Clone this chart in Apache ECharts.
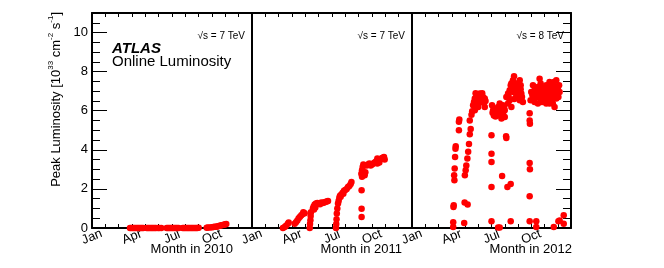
<!DOCTYPE html>
<html><head><meta charset="utf-8">
<script src="https://cdn.jsdelivr.net/npm/echarts@6/dist/echarts.min.js"></script>
<style>html,body{margin:0;padding:0;background:#fff}#c{width:664px;height:268px}</style>
</head><body><div id="c"></div>
<script>
// ---- data: [month of year (0 = 1 Jan), peak luminosity in 1e33 cm^-2 s^-1] ----
const lumi2010 = [
 [2.85,0],[2.95,0],[3.05,0],[3.15,0],[3.25,0],[3.35,0],[3.45,0],[3.55,0],[3.65,0],[3.75,0],[3.85,0],
 [4.1,0],[4.2,0],[4.3,0],[4.4,0],[4.5,0],[4.6,0],[4.7,0],[4.8,0],[4.95,0],[5.05,0],[5.2,0],
 [5.6,0],[5.7,0],[5.8,0],[5.9,0],[6.0,0],[6.1,0],[6.2,0],[6.3,0],[6.4,0],[6.5,0],
 [6.8,0],[6.9,0],[7.0,0],[7.1,0],[7.2,0],[7.3,0],[7.4,0],[7.5,0],[7.6,0],[7.7,0],[7.8,0],[7.9,0],[8.0,0.01],
 [8.6,0.01],[8.7,0.02],[8.85,0.03],[9.0,0.04],[9.1,0.05],[9.2,0.06],[9.3,0.07],[9.4,0.08],[9.5,0.1],
 [9.6,0.12],[9.7,0.14],[9.8,0.15],[9.9,0.17],[10.0,0.19],[10.07,0.2]
];
const lumi2011 = [
 [2.32,0.0],[2.45,0.05],[2.55,0.12],[2.69,0.22],[2.75,0.28],
 [3.2,0.22],[3.3,0.3],[3.4,0.38],[3.5,0.5],[3.6,0.58],[3.7,0.65],[3.8,0.72],[3.95,0.75],[3.85,0.8],
 [4.33,0.0],[4.35,0.2],[4.38,0.4],[4.4,0.62],[4.42,0.8],
 [4.57,1.0],[4.62,1.1],[4.7,1.2],[4.8,1.25],[4.9,1.28],[5.0,1.25],[5.1,1.22],[5.2,1.3],[5.3,1.28],
 [5.4,1.3],[5.5,1.33],[5.6,1.35],[5.7,1.38],[4.65,0.95],[4.75,1.05],
 [6.3,0.0],[6.32,0.2],[6.34,0.45],[6.36,0.74],[6.4,1.0],[6.45,1.25],[6.5,1.4],[6.55,1.55],[6.6,1.65],
 [6.7,1.72],[6.8,1.8],[6.9,1.9],[7.0,1.95],[7.1,2.0],[7.2,2.1],[7.3,2.15],[7.4,2.25],[7.46,2.35],
 [6.65,1.6],[6.85,1.75],
 [8.22,1.93],[8.22,0.99],[8.22,0.56],
 [8.2,2.78],[8.25,2.95],[8.3,3.12],[8.35,3.25],[8.25,2.62],[8.45,2.7],[8.5,2.85],[8.6,3.2],[8.7,3.25],
 [8.8,3.3],[8.9,3.2],[9.0,3.25],[9.1,3.3],[9.2,3.35],[9.3,3.4],[9.4,3.3],[9.5,3.45],[9.6,3.5],
 [9.7,3.55],[9.8,3.6],[9.9,3.63],[9.95,3.5],[9.55,3.35],[9.4,3.55]
];
const lumi2012 = [
 [3.11,0.3],[3.11,0.05],[3.13,1.07],[3.15,1.16],[3.18,2.7],[3.2,2.44],[3.22,3.04],[3.25,3.63],
 [3.3,4.18],[3.28,4.06],[3.54,5.43],[3.54,5.0],[3.57,5.55],
 [3.94,0.26],[3.97,1.3],[4.2,1.2],
 [3.99,2.7],[4.05,2.95],[4.1,3.2],[4.18,3.55],[4.24,3.9],[4.3,4.3],[4.36,4.8],[4.43,5.07],[4.36,5.5],[4.49,5.8],[4.54,5.97],
 [4.74,6.62],[4.87,6.79],[4.99,6.7],[5.24,6.79],[5.36,6.7],[5.49,6.62],[5.2,6.45],[5.49,6.19],
 [4.99,6.19],[4.74,6.02],[4.61,6.28],[5.36,6.54],[5.12,6.88],
 [4.68,6.45],[4.8,6.9],[5.05,6.55],[5.3,6.9],[5.42,6.4],[5.55,6.5],[4.92,6.35],
 [6.04,6.28],[6.12,6.02],[6.25,5.85],[6.37,5.94],[6.5,6.19],[6.62,5.77],[6.75,5.6],[6.87,5.85],
 [7.0,6.02],[6.62,6.37],[6.87,6.28],[7.0,5.68],[6.45,5.77],
 [6.08,5.9],[6.2,6.1],[6.3,5.7],[6.42,6.05],[6.55,5.95],[6.7,6.1],[6.8,5.72],[6.95,6.15],[6.18,5.75],
 [6.0,4.74],[6.0,3.8],[6.0,3.38],[6.0,2.1],[6.0,0.34],[6.5,0.03],[6.62,0.03],
 [6.8,2.66],[7.1,4.7],[7.12,4.6],[7.2,2.1],[7.45,2.25],[7.45,0.35],
 [7.12,6.7],[7.25,6.88],[7.37,7.05],[7.45,7.3],[7.5,7.39],[7.62,7.56],[7.7,7.76],[7.75,7.22],
 [7.88,7.39],[8.0,7.05],[8.13,7.56],[8.2,7.3],[8.25,6.88],[8.13,6.54],[8.37,6.45],[8.0,6.7],
 [7.62,6.96],[7.37,6.54],[7.5,6.19],[7.25,6.37],[7.88,6.79],
 [7.55,7.1],[7.68,7.0],[7.8,6.95],[7.95,7.25],[8.05,6.9],[8.2,7.1],[7.72,6.6],[7.3,6.7],[8.3,6.7],
 [8.88,5.87],[8.88,5.5],[8.9,5.34],[8.88,3.33],[8.9,3.0],[8.88,1.62],[8.88,0.34],
 [9.38,0.34],[9.38,0.05],[10.7,0.05],[11.05,0.34],[11.14,0.38],[11.45,0.65],[11.45,0.22],
 [8.95,6.54],[9.0,6.96],[9.13,7.3],[9.25,7.05],[9.38,6.7],[9.5,7.22],[9.63,7.64],[9.71,7.39],
 [9.76,6.88],[9.88,7.13],[9.96,6.54],[10.0,6.96],[10.13,7.3],[10.21,6.7],[10.26,7.13],[10.38,7.47],
 [10.46,6.88],[10.51,6.54],[10.56,7.3],[10.63,7.05],[10.76,6.7],[10.81,7.22],[10.89,7.56],
 [10.96,6.88],[11.01,7.13],[11.14,6.96],[10.89,6.62],[10.71,7.47],[9.5,6.37],[9.81,6.45],
 [10.13,6.37],[10.38,6.37],[10.63,6.37],[9.25,6.45],[9.63,6.74],[10.0,6.7],[10.31,6.88],[10.76,6.19],
 [9.08,6.8],[9.45,6.95],[9.58,7.05],[9.9,6.8],[10.05,7.1],[10.18,6.95],[10.45,7.15],[10.6,6.75],
 [10.85,6.95],[11.05,6.7],[11.1,7.3],[9.2,6.6],[9.7,6.6],[10.3,6.55],[10.5,7.0]
];
const seriesData = [lumi2010, lumi2011, lumi2012];
const xTitles = ['Month in 2010', 'Month in 2011', 'Month in 2012'];
const energyLabels = ['\u221As = 7 TeV', '\u221As = 7 TeV', '\u221As = 8 TeV'];
const monthNames = ['Jan', 'Apr', 'Jul', 'Oct'];   // at months 0, 3, 6, 9
const yTicks = {min: 0, max: 11, interval: 2};

// ---- layout ----
const FONT = 'Liberation Sans, Arial, Helvetica, sans-serif';
const lefts = [92, 252, 412];
const widths = [160, 160, 159];
const TOP = 13, BOTTOM = 40;
const xTitleRight = [233, 402, 572];
const LW = 2;
const TW = 1;

const grids = [], xAxes = [], yAxes = [], series = [];
for (let i = 0; i < 3; i++) {
  grids.push({left: lefts[i], width: widths[i], top: TOP, bottom: BOTTOM, containLabel: false});
  xAxes.push({
    gridIndex: i, type: 'value', position: 'bottom', min: 0, max: 12, interval: 1,
    axisLine: {show: true, onZero: false, lineStyle: {color: '#000', width: LW}},
    axisTick: {show: true, inside: true, length: 4, lineStyle: {color: '#000', width: TW}},
    splitLine: {show: false},
    axisLabel: {
      show: true, rotate: 22, align: 'center', verticalAlign: 'middle', margin: 9,
      fontSize: 13, fontFamily: FONT, color: '#000',
      formatter: v => (v % 3 === 0 && v < 12) ? monthNames[v / 3] : ''
    }
  });
  xAxes.push({
    gridIndex: i, type: 'value', position: 'top', min: 0, max: 12, interval: 1,
    axisLine: {show: true, onZero: false, lineStyle: {color: '#000', width: LW}},
    axisTick: {show: true, inside: true, length: 4, lineStyle: {color: '#000', width: TW}},
    splitLine: {show: false}, axisLabel: {show: false}
  });
  const isFirst = i === 0;
  yAxes.push({
    gridIndex: i, type: 'value', position: 'left', min: yTicks.min, max: yTicks.max, interval: yTicks.interval,
    axisLine: {show: true, onZero: false, lineStyle: {color: '#000', width: LW}},
    axisTick: {show: isFirst, inside: true, length: 15, lineStyle: {color: '#000', width: TW}},
    minorTick: {show: isFirst, splitNumber: 4, length: 8, lineStyle: {color: '#000', width: TW}},
    splitLine: {show: false}, minorSplitLine: {show: false},
    axisLabel: {show: isFirst, fontSize: 13, fontFamily: FONT, color: '#000', margin: 4,
      formatter: v => v > 10 ? '' : String(v)},
    name: isFirst ? '{n|Peak Luminosity [10}{s|33}{n| cm}{s|-2}{n| s}{s|-1}{n|]}' : '',
    nameLocation: 'end', nameRotate: 90, nameGap: 1,
    nameTextStyle: {
      align: 'right', verticalAlign: 'bottom', padding: [0, 0, 29, 0],
      rich: {
        n: {fontSize: 13, fontFamily: FONT, color: '#000', lineHeight: 16, verticalAlign: 'bottom'},
        s: {fontSize: 8, fontFamily: FONT, color: '#000', lineHeight: 16, verticalAlign: 'top'}
      }
    }
  });
  series.push({
    type: 'scatter', xAxisIndex: 2 * i, yAxisIndex: i,
    data: seriesData[i], symbol: 'circle', symbolSize: 6.5, clip: false,
    itemStyle: {color: '#ff0000', opacity: 1}, silent: true, animation: false
  });
}
yAxes.push({
  gridIndex: 2, type: 'value', position: 'right', min: yTicks.min, max: yTicks.max, interval: yTicks.interval,
  axisLine: {show: true, onZero: false, lineStyle: {color: '#000', width: LW}},
  axisTick: {show: true, inside: true, length: 15, lineStyle: {color: '#000', width: TW}},
  minorTick: {show: true, splitNumber: 4, length: 8, lineStyle: {color: '#000', width: TW}},
  splitLine: {show: false}, axisLabel: {show: false}
});

const graphics = [];
energyLabels.forEach((t, i) => graphics.push({
  type: 'text', x: lefts[i] + widths[i] - 7, y: 36,
  style: {text: t, fontSize: 10, fontFamily: FONT, fill: '#000', textAlign: 'right', textVerticalAlign: 'middle'}
}));
xTitles.forEach((t, i) => graphics.push({
  type: 'text', x: xTitleRight[i], y: 249,
  style: {text: t, fontSize: 13, fontFamily: FONT, fill: '#000', textAlign: 'right', textVerticalAlign: 'middle'}
}));

const chart = echarts.init(document.getElementById('c'), null, {renderer: 'canvas'});
chart.setOption({
  animation: false,
  backgroundColor: '#fff',
  title: [
    {text: 'ATLAS', left: 112, top: 41, padding: 0,
     textStyle: {fontSize: 15, fontStyle: 'italic', fontWeight: 'bold', fontFamily: FONT, color: '#000'}},
    {text: 'Online Luminosity', left: 112, top: 54, padding: 0,
     textStyle: {fontSize: 15, fontWeight: 'normal', fontFamily: FONT, color: '#000'}}
  ],
  grid: grids, xAxis: xAxes, yAxis: yAxes, series: series, graphic: graphics
});
</script></body></html>
